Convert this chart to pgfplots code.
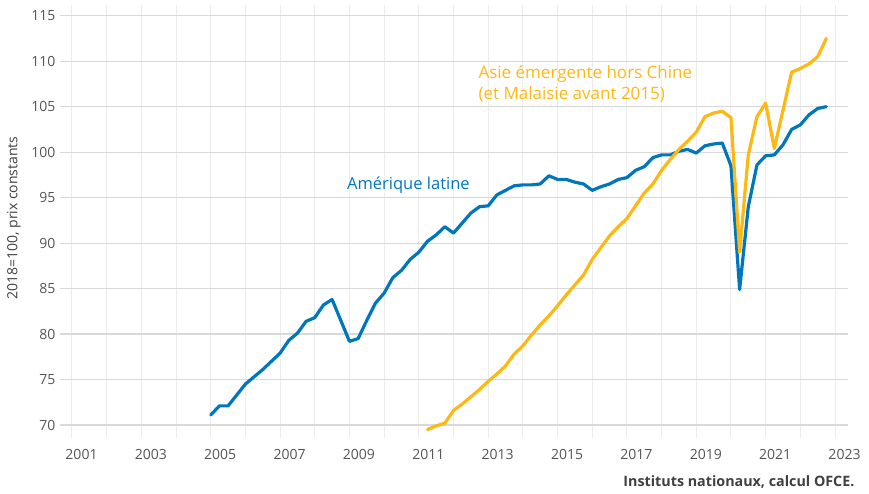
\documentclass[border=0pt]{standalone}
\usepackage{pgfplots}
\pgfplotsset{compat=1.18}
\usepackage{pgfplotstable}
\usepackage{fontspec}
\setmainfont{Open Sans}
\definecolor{latblue}{RGB}{0,119,188}
\definecolor{asiayel}{RGB}{253,184,19}
\definecolor{hgrid}{RGB}{217,217,217}
\definecolor{vgrid}{RGB}{236,236,236}
\definecolor{ticktxt}{RGB}{85,85,85}
\definecolor{srctxt}{RGB}{64,64,64}
\pgfplotstableread{
t v
2005.00 71.1
2005.25 72.1
2005.50 72.1
2005.75 73.3
2006.00 74.5
2006.25 75.3
2006.50 76.1
2006.75 77.0
2007.00 77.9
2007.25 79.3
2007.50 80.1
2007.75 81.4
2008.00 81.8
2008.25 83.2
2008.50 83.8
2008.75 81.5
2009.00 79.2
2009.25 79.5
2009.50 81.5
2009.75 83.4
2010.00 84.5
2010.25 86.2
2010.50 87.0
2010.75 88.2
2011.00 89.0
2011.25 90.2
2011.50 90.9
2011.75 91.8
2012.00 91.1
2012.25 92.2
2012.50 93.3
2012.75 94.0
2013.00 94.1
2013.25 95.3
2013.50 95.8
2013.75 96.3
2014.00 96.4
2014.25 96.4
2014.50 96.5
2014.75 97.4
2015.00 97.0
2015.25 97.0
2015.50 96.7
2015.75 96.5
2016.00 95.8
2016.25 96.2
2016.50 96.5
2016.75 97.0
2017.00 97.2
2017.25 98.0
2017.50 98.4
2017.75 99.4
2018.00 99.7
2018.25 99.7
2018.50 100.1
2018.75 100.3
2019.00 99.9
2019.25 100.7
2019.50 100.9
2019.75 101.0
2020.00 98.5
2020.25 84.9
2020.50 94.0
2020.75 98.6
2021.00 99.6
2021.25 99.7
2021.50 100.8
2021.75 102.5
2022.00 103.0
2022.25 104.1
2022.50 104.8
2022.75 105.0
}\latam
\pgfplotstableread{
t v
2011.25 69.5
2011.50 69.9
2011.75 70.2
2012.00 71.6
2012.25 72.3
2012.50 73.1
2012.75 73.9
2013.00 74.8
2013.25 75.6
2013.50 76.5
2013.75 77.8
2014.00 78.7
2014.25 79.9
2014.50 81.0
2014.75 82.0
2015.00 83.1
2015.25 84.3
2015.50 85.4
2015.75 86.5
2016.00 88.2
2016.25 89.5
2016.50 90.8
2016.75 91.8
2017.00 92.7
2017.25 94.1
2017.50 95.5
2017.75 96.5
2018.00 98.0
2018.25 99.2
2018.50 100.3
2018.75 101.2
2019.00 102.2
2019.25 103.9
2019.50 104.3
2019.75 104.5
2020.00 103.8
2020.25 89.0
2020.50 99.7
2020.75 103.9
2021.00 105.4
2021.25 100.4
2021.50 104.6
2021.75 108.8
2022.00 109.2
2022.25 109.7
2022.50 110.5
2022.75 112.5
}\asia
\begin{document}
\begin{tikzpicture}
\useasboundingbox (0,0) rectangle (869pt,493pt);
\begin{axis}[
  at={(60pt,55pt)}, anchor=south west,
  width=788pt, height=433pt, scale only axis,
  xmin=2000.654, xmax=2023.375,
  ymin=68.57, ymax=116.18,
  xtick={2001,2003,...,2023},
  minor xtick={2002,2004,...,2022},
  ytick={70,75,...,115},
  xticklabel={\pgfmathprintnumber[1000 sep=,int detect]{\tick}},
  xmajorgrids, xminorgrids, ymajorgrids,
  major x grid style={vgrid, line width=1pt},
  minor x grid style={vgrid, line width=1pt},
  major y grid style={hgrid, line width=1.2pt},
  axis line style={draw=none},
  major tick style={draw=none}, minor tick style={draw=none},
  /pgf/number format/assume math mode=true,
  tick label style={font=\fontsize{14}{16}\selectfont, text=ticktxt},
  xticklabel style={xshift=9.5pt, yshift=-8pt},
  yticklabel style={xshift=-1pt},
  ylabel={2018=100, prix constants},
  ylabel style={at={(axis description cs:-0.0584,0.508)}, anchor=center, font=\fontsize{14}{16}\selectfont, text=srctxt},
  clip=false,
]
\addplot[draw=latblue, line width=3.2pt, line join=round, line cap=round] table[x=t,y=v]{\latam};
\addplot[draw=asiayel, line width=3.2pt, line join=round, line cap=round] table[x=t,y=v]{\asia};
\node[text=latblue, font=\fontsize{16.5}{19}\selectfont, anchor=center] at (axis cs:2010.7,96.4) {Amérique latine};
\node[text=asiayel, font=\fontsize{17}{21}\selectfont, anchor=west, align=left] at (axis cs:2012.62,107.5) {Asie émergente hors Chine\\(et Malaisie avant 2015)};
\end{axis}
\node[anchor=east, font=\bfseries\fontsize{14.3}{16}\selectfont, text=srctxt] at (858pt,11pt) {Instituts nationaux, calcul OFCE.};
\end{tikzpicture}
\end{document}
